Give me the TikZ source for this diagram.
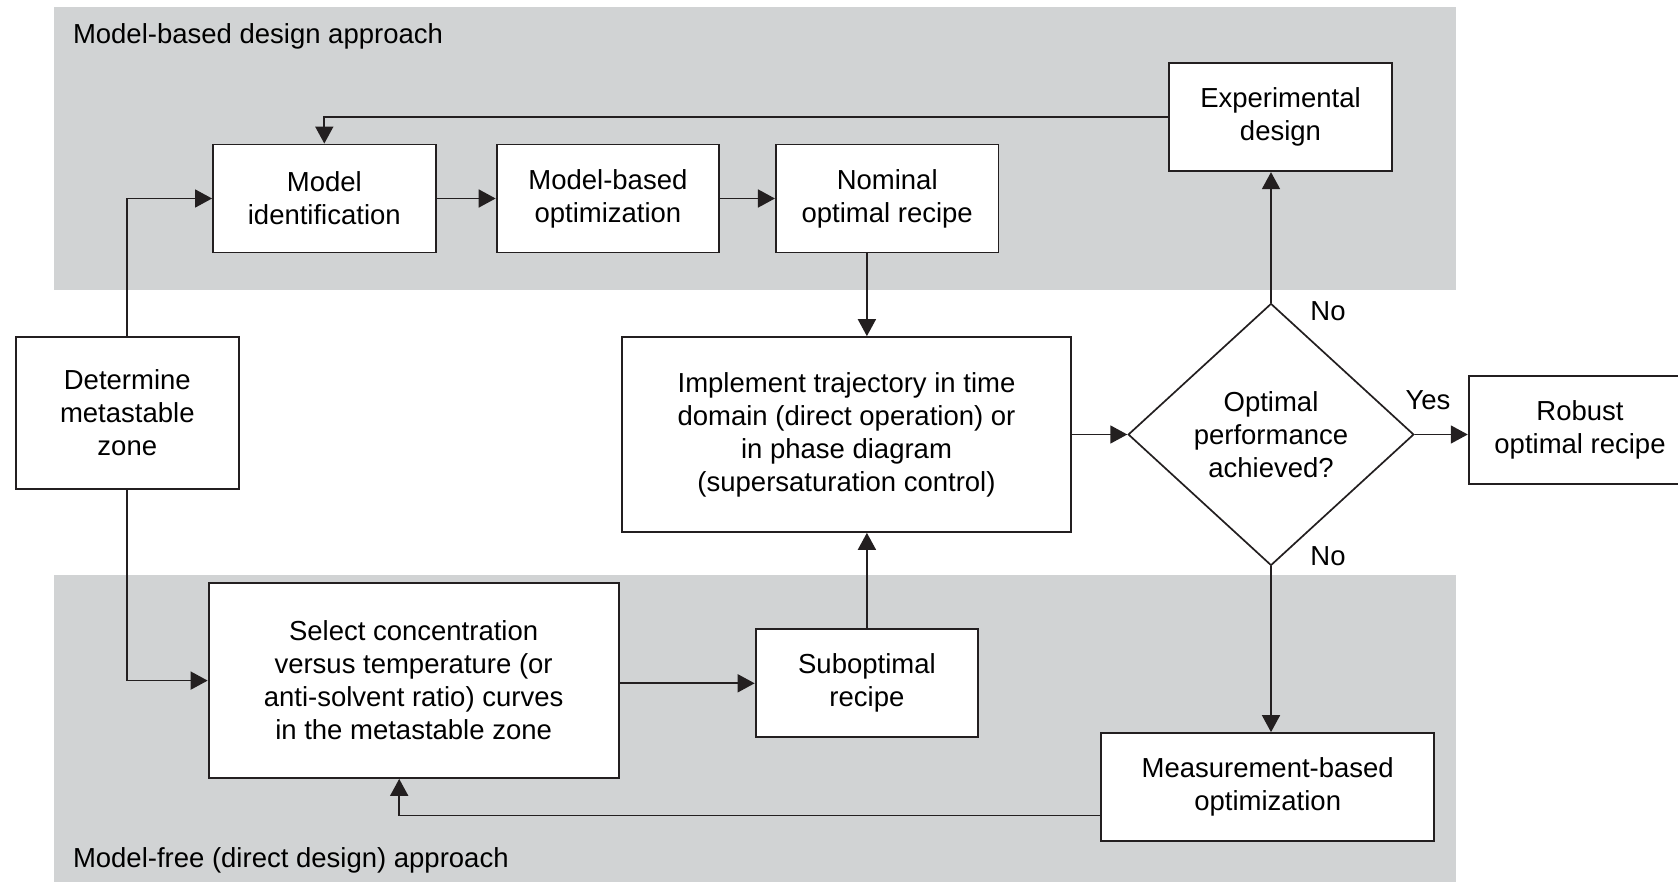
\documentclass[tikz,border=0pt]{standalone}
\usepackage{fontspec}
\setmainfont{Liberation Sans}
\usepackage{xcolor}
\usetikzlibrary{arrows.meta,shapes.geometric,calc}
\usetikzlibrary{positioning}

\definecolor{bandgray}{RGB}{209,211,212}
\definecolor{inkline}{RGB}{35,31,32}

\tikzset{
  box/.style={draw=inkline, fill=white, line width=1.9pt, inner sep=0pt, align=center,
    minimum width=222.6pt, minimum height=108pt},
  decision/.style={diamond, draw=inkline, fill=white, line width=1.7pt, inner sep=0pt, align=center},
  arr/.style={draw=inkline, line width=1.7pt, -{Triangle[length=17pt,width=18pt]}},
}

\begin{document}
\begin{tikzpicture}[x=1pt,y=1pt,yscale=-1,xscale=1,font=\fontsize{27.5}{33}\selectfont]
\useasboundingbox (0,0) rectangle (1678,882);

%Shape: Rectangle (model-based band)
\fill[bandgray] (53.5,7.5) rectangle (1455.5,290);
%Shape: Rectangle (model-free band)
\fill[bandgray] (53.5,574.7) rectangle (1455.5,882);

% Text Node
\node[anchor=west, inner sep=0pt] (toplabel) at (72.8,36.4) {Model-based design approach};
% Text Node
\node[anchor=west, inner sep=0pt] (botlabel) at (72.8,860.4) {Model-free (direct design) approach};

%Shape: boxes
\node[box] (modelid) at (324.3,198.5) {Model\\identification};
\node[box] (modelopt) at (607.9,198.5) {Model-based\\optimization};
\node[box] (nominal) at (887.2,198.5) {Nominal\\optimal recipe};
\node[box] (expdesign) at (1280.5,117.2) {Experimental\\design};
\node[box, minimum height=152pt] (metazone) at (127.3,413.1) {Determine\\metastable\\zone};
\node[box, minimum width=449.5pt, minimum height=194.8pt] (implement) at (846.5,434.5)
  {Implement trajectory in time\\domain (direct operation) or\\in phase diagram\\(supersaturation control)};
\node[decision, minimum width=285.7pt, minimum height=262pt] (check) at (1271,434.5)
  {Optimal\\performance\\achieved?};
\node[box] (robust) at (1580,430) {Robust\\optimal recipe};
\node[box, minimum width=410pt, minimum height=194.7pt] (selcurves) at (413.6,680.6)
  {Select concentration\\versus temperature (or\\anti-solvent ratio) curves\\in the metastable zone};
\node[box] (subopt) at (866.9,683.3) {Suboptimal\\recipe};
\node[box, minimum width=333pt] (measopt) at (1267.7,787.1) {Measurement-based\\optimization};

%Straight Lines
\draw[arr] (expdesign.west) -| (modelid.north);
\draw[arr] (metazone.north) |- (modelid.west);
\draw[arr] (modelid.east) -- (modelopt.west);
\draw[arr] (modelopt.east) -- (nominal.west);
\draw[arr] (nominal.south -| subopt.north) -- (implement.north -| subopt.north);
\draw[arr] (implement.east) -- (check.west);
\draw[arr] (check.north) -- (check.north |- expdesign.south);
\draw[arr] (check.east) -- (check.east -| robust.west);
\draw[arr] (check.south) -- (check.south |- measopt.north);
\draw[arr] (metazone.south) |- (selcurves.west);
\draw[arr] (selcurves.east |- subopt.west) -- (subopt.west);
\draw[arr] (subopt.north) -- (subopt.north |- implement.south);
\coordinate (feedback) at (399.2,815.5);
\draw[arr] (measopt.west |- feedback) -| (feedback |- selcurves.south);

% Text Node
\node (noup) at (1328,311) {No};
% Text Node
\node (yes) at (1428,400) {Yes};
% Text Node
\node (nodown) at (1328,556) {No};

\end{tikzpicture}
\end{document}
